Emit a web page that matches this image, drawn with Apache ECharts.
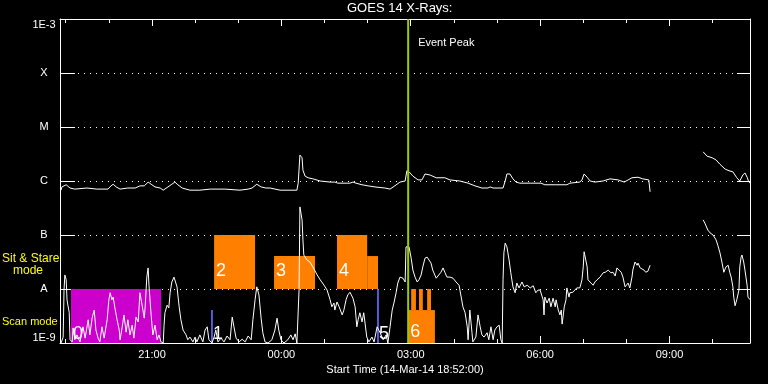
<!DOCTYPE html>
<html><head><meta charset="utf-8">
<script src="https://cdn.jsdelivr.net/npm/echarts@6/dist/echarts.min.js"></script>
<style>html,body{margin:0;padding:0;background:#000}#c{width:768px;height:384px}</style>
</head><body><div id="c"></div>
<script>
// ---- text ----
const chartTitle = 'GOES 14 X-Rays:';
const xAxisTitle = 'Start Time (14-Mar-14 18:52:00)';
const eventPeakLabel = 'Event Peak';
const sitStareText = ['Sit & Stare', 'mode'];
const scanText = 'Scan mode';

// ---- axes (time in hours of 14-Mar UT, continuing past 24) ----
const startHour = 18.8667;
const endHour = 34.8667;
const xMajorHours = [21, 24, 27, 30, 33];
const xMajorLabels = ['21:00', '00:00', '03:00', '06:00', '09:00'];
const xMinorHours = [19, 20, 21, 22, 23, 24, 25, 26, 27, 28, 29, 30, 31, 32, 33, 34];
// log10 of flux (W/m^2)
const yLevels = [-9, -8, -7, -6, -5, -4, -3];
const yLevelLabels = ['1E-9', 'A', 'B', 'C', 'M', 'X', '1E-3'];

// ---- event ----
const eventPeakHour = 26.94;

// ---- GOES long channel (1-8 A), [hour, log10 flux] ----
const longChannel = [[18.89,-6.17],[18.91,-6.11],[18.96,-6.09],[19.01,-6.07],[19.05,-6.09],[19.10,-6.13],[19.21,-6.15],[19.49,-6.13],[19.72,-6.15],[19.98,-6.15],[20.05,-6.09],[20.10,-6.06],[20.17,-6.11],[20.26,-6.15],[20.44,-6.13],[20.61,-6.13],[20.72,-6.09],[20.82,-6.09],[20.91,-6.02],[20.98,-6.06],[21.07,-6.11],[21.19,-6.13],[21.26,-6.17],[21.37,-6.11],[21.46,-6.06],[21.53,-6.02],[21.60,-6.07],[21.70,-6.13],[21.88,-6.17],[22.11,-6.17],[22.35,-6.15],[22.69,-6.15],[23.04,-6.17],[23.23,-6.15],[23.32,-6.13],[23.43,-6.06],[23.53,-6.11],[23.64,-6.13],[23.74,-6.13],[23.97,-6.17],[24.36,-6.17],[24.39,-6.04],[24.43,-5.52],[24.46,-5.50],[24.48,-5.57],[24.50,-5.80],[24.55,-5.91],[24.62,-5.94],[24.73,-5.96],[24.90,-6.00],[25.13,-6.02],[25.24,-6.02],[25.31,-6.04],[25.59,-6.04],[25.66,-6.02],[25.73,-6.04],[25.87,-6.07],[26.01,-6.09],[26.17,-6.11],[26.40,-6.13],[26.52,-6.15],[26.63,-6.09],[26.75,-6.02],[26.87,-6.00],[26.91,-5.81],[26.96,-5.83],[27.05,-5.91],[27.17,-5.98],[27.26,-5.98],[27.33,-5.87],[27.45,-5.89],[27.59,-5.94],[27.79,-5.94],[27.91,-5.98],[28.14,-6.00],[28.33,-6.04],[28.49,-6.09],[28.65,-6.13],[28.79,-6.13],[28.84,-6.11],[28.91,-6.13],[29.14,-6.13],[29.19,-6.00],[29.23,-5.87],[29.30,-5.87],[29.37,-5.96],[29.44,-6.02],[29.53,-6.04],[29.77,-6.04],[30.02,-6.04],[30.11,-6.07],[30.35,-6.07],[30.62,-6.07],[30.69,-6.04],[30.92,-6.02],[30.97,-5.98],[31.02,-5.87],[31.09,-5.93],[31.16,-6.00],[31.27,-6.02],[31.46,-6.00],[31.62,-5.96],[31.81,-5.98],[31.95,-6.02],[32.04,-5.98],[32.13,-5.94],[32.27,-5.93],[32.38,-5.96],[32.52,-5.98],[32.55,-6.20],[32.60,null],[33.78,-5.46],[33.87,-5.54],[33.99,-5.57],[34.08,-5.61],[34.17,-5.69],[34.29,-5.78],[34.38,-5.81],[34.47,-5.83],[34.56,-5.94],[34.63,-6.00],[34.70,-5.89],[34.75,-5.85],[34.80,-5.93],[34.84,-6.02],[34.87,-6.04]];

// ---- GOES short channel (0.5-4 A), [hour, log10 flux] ----
const shortChannel = [[18.89,-9.00],[18.94,-8.89],[18.96,-8.02],[18.98,-7.74],[19.01,-7.83],[19.03,-8.20],[19.05,-8.30],[19.08,-8.43],[19.10,-8.94],[19.15,-8.98],[19.17,-8.72],[19.21,-8.94],[19.26,-8.85],[19.33,-8.98],[19.40,-8.70],[19.45,-8.91],[19.52,-8.57],[19.56,-8.85],[19.61,-8.54],[19.66,-8.39],[19.70,-8.76],[19.75,-8.91],[19.79,-8.98],[19.84,-8.70],[19.89,-8.91],[19.96,-8.57],[20.00,-8.20],[20.03,-8.07],[20.07,-8.20],[20.10,-8.15],[20.14,-8.35],[20.19,-8.57],[20.24,-8.76],[20.26,-8.94],[20.31,-8.70],[20.35,-8.48],[20.40,-8.80],[20.44,-8.57],[20.49,-8.85],[20.54,-8.67],[20.58,-8.91],[20.63,-8.52],[20.68,-8.61],[20.72,-8.07],[20.77,-8.30],[20.82,-8.54],[20.84,-8.35],[20.88,-7.78],[20.91,-7.61],[20.93,-7.93],[20.98,-8.48],[21.02,-8.85],[21.07,-8.67],[21.12,-8.94],[21.16,-8.85],[21.21,-8.98],[21.26,-9.00],[21.28,-8.67],[21.30,-8.44],[21.35,-8.30],[21.39,-8.35],[21.42,-8.07],[21.46,-7.87],[21.51,-7.78],[21.53,-7.76],[21.58,-7.96],[21.63,-8.33],[21.67,-8.57],[21.72,-8.76],[21.79,-8.85],[21.83,-8.94],[21.88,-8.89],[21.95,-8.98],[22.00,-8.89],[22.04,-8.98],[22.11,-8.85],[22.18,-8.98],[22.23,-8.76],[22.28,-8.70],[22.32,-8.94],[22.39,-9.00],[22.44,-8.89],[22.48,-8.76],[22.53,-8.98],[22.60,-8.91],[22.67,-8.98],[22.74,-8.87],[22.81,-8.94],[22.86,-8.52],[22.90,-8.70],[22.95,-8.91],[23.02,-8.98],[23.09,-8.93],[23.16,-8.98],[23.23,-8.87],[23.30,-8.94],[23.34,-8.57],[23.39,-8.20],[23.43,-7.96],[23.48,-8.11],[23.53,-8.54],[23.57,-8.81],[23.62,-8.98],[23.69,-9.00],[23.78,-8.94],[23.85,-8.76],[23.90,-8.54],[23.94,-8.76],[23.99,-8.94],[24.06,-9.00],[24.15,-8.94],[24.22,-8.85],[24.27,-8.94],[24.32,-8.83],[24.36,-9.00],[24.41,-8.02],[24.43,-6.48],[24.48,-6.72],[24.50,-7.09],[24.52,-7.37],[24.59,-7.46],[24.66,-7.50],[24.73,-7.59],[24.83,-7.74],[24.90,-7.83],[24.99,-7.93],[25.06,-8.02],[25.13,-8.20],[25.17,-8.33],[25.22,-8.26],[25.24,-8.39],[25.29,-8.24],[25.34,-8.33],[25.41,-8.48],[25.45,-8.39],[25.50,-8.20],[25.54,-8.11],[25.59,-8.06],[25.66,-8.17],[25.71,-8.33],[25.75,-8.70],[25.78,-8.57],[25.82,-8.44],[25.87,-8.61],[25.91,-8.44],[25.94,-8.63],[25.98,-8.89],[26.03,-8.98],[26.10,-8.89],[26.15,-8.98],[26.22,-8.70],[26.29,-8.81],[26.36,-8.94],[26.43,-8.85],[26.47,-9.00],[26.52,-8.70],[26.57,-8.39],[26.61,-8.26],[26.66,-8.07],[26.70,-7.89],[26.75,-7.78],[26.82,-7.80],[26.87,-7.87],[26.89,-7.22],[26.96,-7.22],[27.01,-7.43],[27.05,-7.65],[27.10,-7.78],[27.15,-7.87],[27.19,-7.83],[27.24,-7.74],[27.28,-7.59],[27.33,-7.43],[27.38,-7.41],[27.42,-7.43],[27.47,-7.52],[27.51,-7.65],[27.59,-7.80],[27.63,-7.78],[27.70,-7.69],[27.75,-7.61],[27.79,-7.69],[27.84,-7.78],[27.91,-7.78],[27.98,-7.80],[28.05,-7.87],[28.12,-7.93],[28.17,-8.15],[28.21,-8.33],[28.26,-8.44],[28.31,-8.70],[28.33,-8.94],[28.37,-8.39],[28.42,-8.81],[28.44,-8.98],[28.51,-8.89],[28.56,-8.48],[28.61,-8.70],[28.65,-8.85],[28.70,-8.89],[28.77,-8.81],[28.81,-8.94],[28.86,-8.70],[28.91,-8.94],[28.95,-8.76],[29.00,-8.70],[29.05,-8.67],[29.09,-8.94],[29.12,-9.00],[29.14,-7.83],[29.16,-7.33],[29.19,-7.15],[29.23,-7.22],[29.28,-7.46],[29.32,-7.70],[29.37,-7.96],[29.42,-8.07],[29.46,-7.89],[29.51,-7.98],[29.58,-7.87],[29.63,-7.96],[29.70,-7.93],[29.77,-7.98],[29.84,-7.94],[29.90,-8.07],[29.95,-8.02],[30.00,-8.02],[30.07,-8.20],[30.09,-8.48],[30.11,-8.15],[30.16,-8.26],[30.21,-8.17],[30.25,-8.33],[30.30,-8.17],[30.35,-8.33],[30.37,-8.20],[30.42,-8.39],[30.46,-8.48],[30.49,-8.39],[30.51,-8.65],[30.56,-8.33],[30.60,-8.20],[30.62,-7.98],[30.67,-8.15],[30.69,-8.07],[30.76,-8.06],[30.85,-7.98],[30.92,-7.98],[30.97,-7.83],[31.00,-7.59],[31.02,-7.31],[31.04,-7.28],[31.09,-7.59],[31.11,-7.83],[31.18,-7.89],[31.23,-7.93],[31.27,-7.87],[31.32,-7.83],[31.39,-7.78],[31.46,-7.70],[31.51,-7.69],[31.55,-7.72],[31.58,-7.65],[31.64,-7.70],[31.69,-7.69],[31.74,-7.76],[31.78,-7.61],[31.83,-7.65],[31.88,-7.69],[31.92,-7.78],[31.97,-7.96],[32.01,-7.98],[32.04,-7.89],[32.08,-7.98],[32.13,-7.78],[32.15,-7.65],[32.20,-7.50],[32.25,-7.56],[32.27,-7.52],[32.32,-7.61],[32.36,-7.59],[32.41,-7.65],[32.45,-7.69],[32.50,-7.67],[32.55,-7.56],[32.60,null],[33.78,-6.72],[33.82,-6.78],[33.89,-6.91],[33.94,-6.96],[34.01,-7.00],[34.08,-7.09],[34.12,-7.19],[34.17,-7.33],[34.22,-7.52],[34.26,-7.69],[34.31,-7.59],[34.36,-7.56],[34.40,-7.70],[34.43,-7.78],[34.47,-7.96],[34.49,-8.15],[34.52,-8.31],[34.56,-8.20],[34.61,-8.02],[34.63,-7.59],[34.66,-7.41],[34.68,-7.37],[34.72,-7.50],[34.75,-7.65],[34.80,-7.93],[34.82,-8.15],[34.87,-8.20]];

// ---- observing blocks ----
const blockStart = [19.12, 22.37, 22.44, 23.83, 25.29, 25.99, 26.22, 26.94, 27.01, 27.19, 27.38];
const blockEnd   = [21.21, 22.41, 23.39, 24.78, 25.99, 26.24, 26.26, 27.56, 27.12, 27.28, 27.47];
const blockLow   = [-9, -9, -8, -8, -8, -8, -9, -9, -8.39, -8.39, -8.39];
const blockHigh  = [-8, -8.39, -7, -7.39, -7, -7.39, -8, -8.39, -8, -8, -8];
const blockLabel = ['0', '1', '2', '3', '4', '', '5', '6', '', '', ''];
const blockKind  = ['raster', 'scan', 'stare', 'stare', 'stare', 'stare', 'scan', 'stare6', 'stare6', 'stare6', 'stare6'];

const kindColor = { raster: '#cc00cc', scan: '#6464ff', stare: '#ff8000', stare6: '#ff8000' };
const kindLabelLift = { raster: 9, scan: 9, stare: 17.5, stare6: 11 };
const FONT = 'Liberation Sans';

const blockData = blockStart.map((s, i) => [s, blockEnd[i], blockLow[i], blockHigh[i], i]);

const chart = echarts.init(document.getElementById('c'), null, { renderer: 'canvas' });

const white = '#ffffff';
const gridRect = { left: 60, right: 18, top: 19, bottom: 41 };

const option = {
  backgroundColor: '#000000',
  animation: false,
  title: {
    text: chartTitle, left: 347, top: 2, padding: 0,
    textStyle: { color: white, fontSize: 13, fontWeight: 'normal', fontFamily: FONT }
  },
  grid: [Object.assign({}, gridRect), Object.assign({}, gridRect)],
  xAxis: [
    {
      type: 'value', gridIndex: 0, position: 'bottom', min: startHour, max: endHour,
      axisLine: { show: true, onZero: false, lineStyle: { color: white, width: 1 } },
      axisTick: { show: true, inside: true, length: 7, customValues: xMajorHours, lineStyle: { color: white } },
      axisLabel: {
        show: true, customValues: xMajorHours, color: white, fontSize: 11, fontFamily: FONT, margin: 6,
        formatter: v => xMajorLabels[xMajorHours.indexOf(Math.round(v))] || ''
      },
      splitLine: { show: false },
      name: xAxisTitle, nameLocation: 'middle', nameGap: 20,
      nameTextStyle: { color: white, fontSize: 11, fontFamily: FONT }
    },
    {
      type: 'value', gridIndex: 0, position: 'top', min: startHour, max: endHour,
      axisLine: { show: true, onZero: false, lineStyle: { color: white, width: 1 } },
      axisTick: { show: true, inside: true, length: 7, customValues: xMajorHours, lineStyle: { color: white } },
      axisLabel: { show: false }, splitLine: { show: false }
    },
    {
      type: 'value', gridIndex: 1, position: 'bottom', min: startHour, max: endHour,
      axisLine: { show: false, onZero: false },
      axisTick: { show: true, inside: true, length: 4, customValues: xMinorHours, lineStyle: { color: white } },
      axisLabel: { show: false }, splitLine: { show: false }
    },
    {
      type: 'value', gridIndex: 1, position: 'top', min: startHour, max: endHour,
      axisLine: { show: false, onZero: false },
      axisTick: { show: true, inside: true, length: 4, customValues: xMinorHours, lineStyle: { color: white } },
      axisLabel: { show: false }, splitLine: { show: false }
    }
  ],
  yAxis: [
    {
      type: 'value', gridIndex: 0, position: 'left', min: -9, max: -3, interval: 1,
      axisLine: { show: true, onZero: false, lineStyle: { color: white, width: 1 } },
      axisTick: { show: true, inside: true, length: 15, lineStyle: { color: white } },
      axisLabel: {
        color: white, fontSize: 11, fontFamily: FONT, margin: 16, align: 'center',
        verticalAlignMinLabel: 'bottom', verticalAlignMaxLabel: 'top',
        formatter: v => yLevelLabels[yLevels.indexOf(Math.round(v))] || ''
      },
      splitLine: { show: true, lineStyle: { color: white, width: 1, type: [1, 5] } }
    },
    {
      type: 'value', gridIndex: 0, position: 'right', min: -9, max: -3, interval: 1,
      axisLine: { show: true, onZero: false, lineStyle: { color: white, width: 1 } },
      axisTick: { show: true, inside: true, length: 13, lineStyle: { color: white } },
      axisLabel: { show: false }, splitLine: { show: false }
    },
    { type: 'value', gridIndex: 1, min: -9, max: -3, show: false }
  ],
  graphic: [
    { type: 'text', left: 2, top: 253, style: { text: sitStareText[0], fill: '#ffff00', font: '12px ' + FONT } },
    { type: 'text', left: 13, top: 265, style: { text: sitStareText[1], fill: '#ffff00', font: '12px ' + FONT } },
    { type: 'text', left: 2, top: 316, style: { text: scanText, fill: '#ffff00', font: '11px ' + FONT } }
  ],
  series: [
    {
      type: 'custom', name: 'blocks', xAxisIndex: 0, yAxisIndex: 0, z: 1,
      encode: { x: [0, 1], y: [2, 3] },
      data: blockData,
      renderItem: (params, api) => {
        const i = api.value(4);
        const kind = blockKind[i];
        const tl = api.coord([api.value(0), api.value(3)]);
        const br = api.coord([api.value(1), api.value(2)]);
        const children = [{
          type: 'rect',
          shape: { x: tl[0], y: tl[1], width: br[0] - tl[0], height: br[1] - tl[1] },
          style: { fill: kindColor[kind] }
        }];
        if (blockLabel[i]) {
          children.push({
            type: 'text', z2: 10,
            x: tl[0] + 2, y: br[1] - kindLabelLift[kind],
            style: { text: blockLabel[i], fill: white, font: '18px ' + FONT, align: 'left', verticalAlign: 'middle' }
          });
        }
        return { type: 'group', children };
      }
    },
    {
      type: 'line', name: 'short', xAxisIndex: 0, yAxisIndex: 0, z: 2,
      data: shortChannel, showSymbol: false, symbol: 'none', connectNulls: false,
      lineStyle: { color: white, width: 1 }
    },
    {
      type: 'line', name: 'long', xAxisIndex: 0, yAxisIndex: 0, z: 2,
      data: longChannel, showSymbol: false, symbol: 'none', connectNulls: false,
      lineStyle: { color: white, width: 1 }
    },
    {
      type: 'custom', name: 'event', xAxisIndex: 0, yAxisIndex: 0, z: 3,
      encode: { x: 0 },
      data: [[eventPeakHour]],
      renderItem: (params, api) => {
        const top = api.coord([api.value(0), -3]);
        const bot = api.coord([api.value(0), -9]);
        return {
          type: 'group', children: [
            { type: 'line', shape: { x1: top[0], y1: top[1], x2: bot[0], y2: bot[1] }, style: { stroke: '#99cc00', lineWidth: 2 } },
            { type: 'text', x: top[0] + 10, y: top[1] + 24, style: { text: eventPeakLabel, fill: white, font: '11px ' + FONT, verticalAlign: 'middle' } }
          ]
        };
      }
    }
  ]
};
chart.setOption(option);
</script>
</body></html>
